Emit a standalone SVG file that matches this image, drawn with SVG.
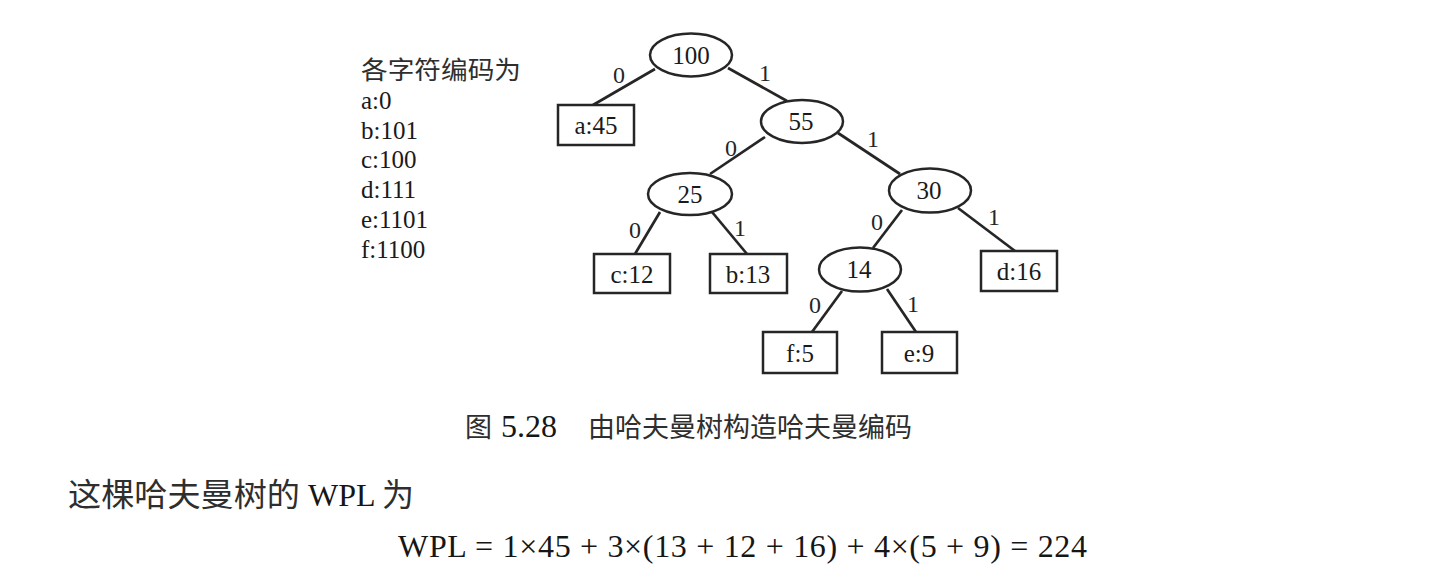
<svg xmlns="http://www.w3.org/2000/svg" width="1430" height="580" viewBox="0 0 1430 580">
<style>
.bg{fill:#ffffff}
.nd{fill:#ffffff;stroke:#262626;stroke-width:2.5}
.ed{stroke:#262626;stroke-width:2.7;fill:none}
.t{font-family:"Liberation Serif","Times New Roman",serif;font-size:25px;fill:#1a1a1a}
.c{text-anchor:middle}
.lb{font-family:"Liberation Serif","Times New Roman",serif;font-size:24px;fill:#262626;text-anchor:middle}
.cjk{font-family:"Noto Sans CJK SC","Noto Sans",sans-serif;fill:#2e2e2e}
.eq{font-family:"Liberation Serif","Times New Roman",serif;font-size:32px;fill:#161616}
</style>
<rect class="bg" x="0" y="0" width="1430" height="580"/>

<g id="codes">
<text class="cjk" x="361" y="79" font-size="25" textLength="160" lengthAdjust="spacingAndGlyphs">各字符编码为</text>
<text class="t" x="361" y="109">a:0</text>
<text class="t" x="361" y="139">b:101</text>
<text class="t" x="361" y="168">c:100</text>
<text class="t" x="361" y="198">d:111</text>
<text class="t" x="361" y="228">e:1101</text>
<text class="t" x="361" y="258">f:1100</text>
</g>

<g id="connectors">
<line class="ed" x1="655" y1="69" x2="593" y2="105"/>
<line class="ed" x1="728" y1="68" x2="787" y2="101"/>
<line class="ed" x1="765" y1="137" x2="710" y2="174"/>
<line class="ed" x1="838" y1="133" x2="900" y2="174"/>
<line class="ed" x1="660" y1="212" x2="635" y2="254"/>
<line class="ed" x1="712" y1="212" x2="747" y2="254"/>
<line class="ed" x1="902" y1="210" x2="873" y2="248"/>
<line class="ed" x1="958" y1="208" x2="1015" y2="251"/>
<line class="ed" x1="842" y1="291" x2="812" y2="332"/>
<line class="ed" x1="887" y1="289" x2="916" y2="332"/>
<text class="lb" x="619" y="83">0</text>
<text class="lb" x="765" y="81">1</text>
<text class="lb" x="731" y="156">0</text>
<text class="lb" x="873" y="147">1</text>
<text class="lb" x="635" y="238">0</text>
<text class="lb" x="740" y="236">1</text>
<text class="lb" x="877" y="230">0</text>
<text class="lb" x="994" y="225">1</text>
<text class="lb" x="815" y="313">0</text>
<text class="lb" x="913" y="312">1</text>
</g>

<g id="n100"><ellipse class="nd" cx="691" cy="55" rx="41" ry="21.5"/><text class="t c" x="691" y="64">100</text></g>
<g id="a45"><rect class="nd" x="558" y="105" width="76" height="40"/><text class="t c" x="596" y="134">a:45</text></g>
<g id="n55"><ellipse class="nd" cx="802" cy="121.5" rx="41" ry="21.5"/><text class="t c" x="801" y="130">55</text></g>
<g id="n25"><ellipse class="nd" cx="690" cy="194" rx="42" ry="21"/><text class="t c" x="690" y="203">25</text></g>
<g id="n30"><ellipse class="nd" cx="930" cy="190.5" rx="41" ry="22"/><text class="t c" x="929" y="199">30</text></g>
<g id="c12"><rect class="nd" x="594" y="254" width="76" height="39"/><text class="t c" x="632" y="283">c:12</text></g>
<g id="b13"><rect class="nd" x="710" y="254" width="77" height="39"/><text class="t c" x="748" y="283">b:13</text></g>
<g id="n14"><ellipse class="nd" cx="860" cy="269.5" rx="41" ry="22"/><text class="t c" x="859" y="278">14</text></g>
<g id="d16"><rect class="nd" x="981" y="251" width="76" height="40"/><text class="t c" x="1019" y="280">d:16</text></g>
<g id="f5"><rect class="nd" x="763" y="332" width="74" height="41"/><text class="t c" x="800" y="362">f:5</text></g>
<g id="e9"><rect class="nd" x="882" y="332" width="75" height="41"/><text class="t c" x="919" y="362">e:9</text></g>

<g id="caption">
<text class="cjk" x="465" y="437" font-size="27">图</text>
<text class="eq" x="501" y="437" font-size="29">5.28</text>
<text class="cjk" x="588" y="437" font-size="27">由哈夫曼树构造哈夫曼编码</text>
</g>

<g id="body">
<text class="cjk" x="68" y="506" font-size="32" textLength="232" lengthAdjust="spacingAndGlyphs">这棵哈夫曼树的</text>
<text class="eq" x="308" y="506" font-size="31">WPL</text>
<text class="cjk" x="382" y="506" font-size="32">为</text>
<text class="eq" x="398" y="557" textLength="689" lengthAdjust="spacing">WPL = 1×45 + 3×(13 + 12 + 16) + 4×(5 + 9) = 224</text>
</g>
</svg>
